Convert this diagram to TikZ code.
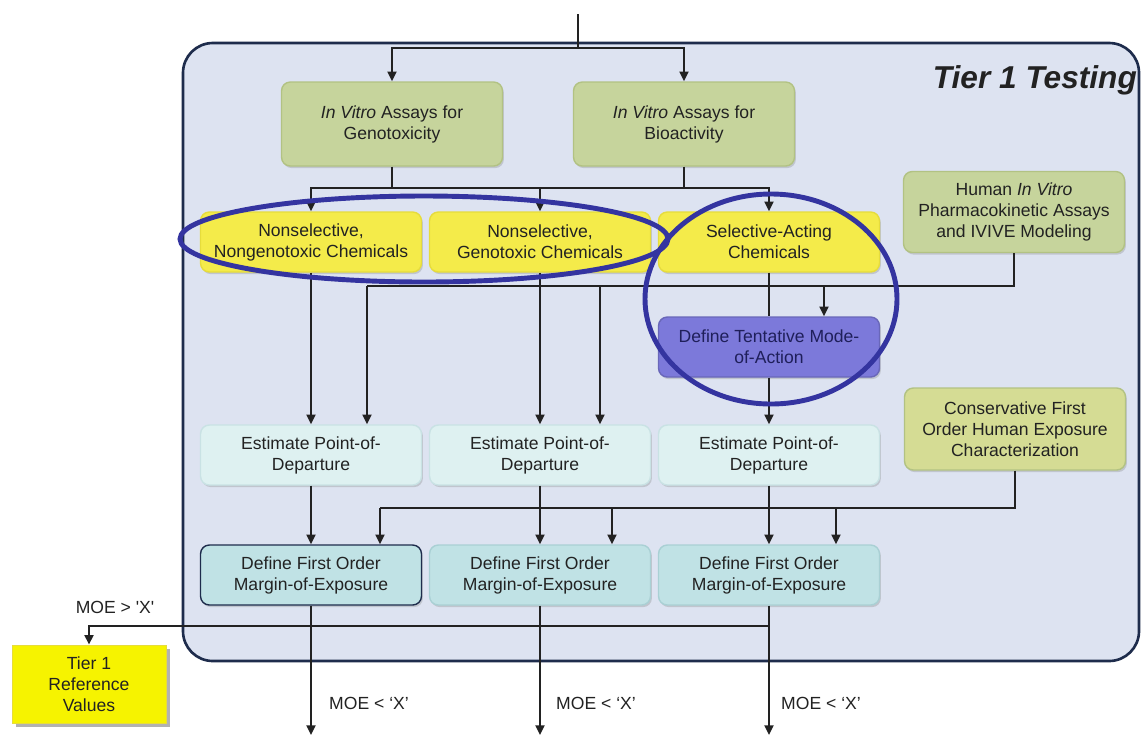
\documentclass[tikz,border=0pt]{standalone}
\usepackage{fontspec}
\setmainfont{Liberation Sans}
\usepackage{tikz}
\usetikzlibrary{arrows.meta,positioning,shapes.geometric,shadows}
\definecolor{Ink}{HTML}{222222}
\definecolor{Navy}{HTML}{1E2C4C}
\definecolor{Panel}{HTML}{DDE3F1}
\definecolor{Sage}{HTML}{C6D49C}
\definecolor{SageLine}{HTML}{B2C283}
\definecolor{Olive}{HTML}{D5DC94}
\definecolor{Lemon}{HTML}{F4EB4A}
\definecolor{LemonLine}{HTML}{E6DC3C}
\definecolor{Violet}{HTML}{7C79DA}
\definecolor{VioletText}{HTML}{1F1F5A}
\definecolor{Mist}{HTML}{DEF1F1}
\definecolor{MistLine}{HTML}{C9E2E4}
\definecolor{Teal}{HTML}{C0E2E5}
\definecolor{TealLine}{HTML}{A9D0D4}
\definecolor{Ring}{HTML}{3434A0}
\definecolor{Signal}{HTML}{F6F300}
\tikzset{
  box/.style={
    rounded corners=5pt,thick,minimum width=4.42cm,minimum height=1.2cm,
    align=center,font=\fontsize{10}{11.9}\selectfont,text=Ink,
    drop shadow={opacity=0.3,shadow xshift=0.8pt,shadow yshift=-1.2pt}
  },
  assay/.style={box,draw=SageLine,fill=Sage,minimum height=1.68cm},
  group/.style={box,draw=LemonLine,fill=Lemon},
  mode/.style={box,draw=Violet!85!black,fill=Violet,text=VioletText},
  pod/.style={box,draw=MistLine,fill=Mist},
  moe/.style={box,draw=TealLine,fill=Teal},
  refbox/.style={
    draw=LemonLine,fill=Signal,minimum width=3.08cm,minimum height=1.56cm,
    align=center,font=\fontsize{10}{11.9}\selectfont,text=Ink,
    drop shadow={opacity=0.6,shadow xshift=2.2pt,shadow yshift=-2.2pt}
  },
  panel/.style={draw=Navy,line width=1.5pt,fill=Panel,rounded corners=17pt},
  ring/.style={draw=Ring,line width=2.8pt},
  wire/.style={line width=1.35pt,draw=Ink},
  arr/.style={wire,-{Triangle[length=5.5pt,width=5pt]}},
  tag/.style={font=\fontsize{10}{11.9}\selectfont,text=Ink}
}

\begin{document}
\begin{tikzpicture}[x=0.02cm,y=-0.02cm]
  \useasboundingbox (0,0) rectangle (1141,735);
  \fill[white] (0,0) rectangle (1141,735);
  \draw[panel] (183,43) rectangle (1139,661);
  \node[anchor=base east,font=\fontsize{18}{20}\selectfont\bfseries\itshape,text=Ink]
    (title) at (1143,88) {Tier 1 Testing};

  \node[assay] (geno) at (392,124) {\textit{In Vitro} Assays for\\Genotoxicity};
  \node[assay] (bio) at (684,124) {\textit{In Vitro} Assays for\\Bioactivity};
  \node[group] (nonng) at (311,242) {Nonselective,\\Nongenotoxic Chemicals};
  \node[group] (nong) at (540,242) {Nonselective,\\Genotoxic Chemicals};
  \node[group] (sel) at (769,242) {Selective-Acting\\Chemicals};
  \node[assay,minimum height=1.62cm] (human) at (1014,212)
    {Human \textit{In Vitro}\\Pharmacokinetic Assays\\and IVIVE Modeling};
  \node[mode] (mode) at (769,347) {Define Tentative Mode-\\of-Action};
  \node[pod] (pod1) at (311,455) {Estimate Point-of-\\Departure};
  \node[pod] (pod2) at (540,455) {Estimate Point-of-\\Departure};
  \node[pod] (pod3) at (769,455) {Estimate Point-of-\\Departure};
  \node[assay,fill=Olive,minimum height=1.64cm] (cons) at (1015,429)
    {Conservative First\\Order Human Exposure\\Characterization};
  \node[moe,draw=Navy] (moe1) at (311,575) {Define First Order\\Margin-of-Exposure};
  \node[moe] (moe2) at (540,575) {Define First Order\\Margin-of-Exposure};
  \node[moe] (moe3) at (769,575) {Define First Order\\Margin-of-Exposure};
  \node[refbox] (ref) at (89,684) {Tier 1\\Reference\\Values};

  \coordinate (entry) at (578,14);
  \coordinate (split) at (578,48);
  \draw[wire] (entry) -- (split);
  \draw[arr] (split) -| (geno.north);
  \draw[arr] (split) -| (bio.north);

  \coordinate (fan) at (540,188);
  \draw[wire] (geno.south) -- (geno.south |- fan);
  \draw[wire] (bio.south) -- (bio.south |- fan);
  \draw[arr] (fan) -| (nonng.north);
  \draw[arr] (fan) -| (sel.north);
  \draw[arr] (fan) -- (nong.north);

  \coordinate (pk1) at (367,286);
  \coordinate (pk2) at (600,286);
  \coordinate (pk3) at (824,286);
  \draw[wire] (human.south) |- (pk1);
  \draw[arr] (pk1) -- (pk1 |- pod1.north);
  \draw[arr] (pk2) -- (pk2 |- pod2.north);
  \draw[arr] (pk3) -- (pk3 |- mode.north);

  \draw[arr] (nonng) -- (pod1);
  \draw[arr] (nong) -- (pod2);
  \draw[wire] (sel) -- (mode);
  \draw[arr] (mode) -- (pod3);

  \coordinate (ex1) at (380,508);
  \coordinate (ex2) at (612,508);
  \coordinate (ex3) at (836,508);
  \draw[wire] (cons.south) |- (ex1);
  \draw[arr] (ex1) -- (ex1 |- moe1.north);
  \draw[arr] (ex2) -- (ex2 |- moe2.north);
  \draw[arr] (ex3) -- (ex3 |- moe3.north);

  \draw[arr] (pod1) -- (moe1);
  \draw[arr] (pod2) -- (moe2);
  \draw[arr] (pod3) -- (moe3);

  \coordinate (out1) at (311,735);
  \coordinate (out2) at (540,735);
  \coordinate (out3) at (769,735);
  \draw[arr] (moe1) -- (out1);
  \draw[arr] (moe2) -- (out2);
  \draw[arr] (moe3) -- (out3);
  \coordinate (pass) at (769,626);
  \draw[arr] (pass) -| (ref.north);

  \node[tag] (gt) at (115,607) {MOE > \textquotesingle X\textquotesingle};
  \node[tag] (lt1) at (369,703) {MOE < ‘X’};
  \node[tag] (lt2) at (596,703) {MOE < ‘X’};
  \node[tag] (lt3) at (821,703) {MOE < ‘X’};

  \draw[ring] (424,239) ellipse [x radius=244,y radius=43];
  \draw[ring] (771,299) ellipse [x radius=126,y radius=105];
\end{tikzpicture}
\end{document}
